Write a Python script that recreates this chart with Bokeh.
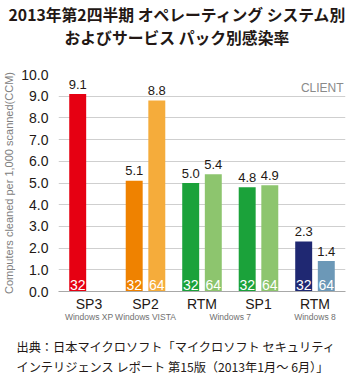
from bokeh.plotting import figure
from bokeh.models import (ColumnDataSource, FixedTicker, LinearAxis, Label, Title,
                          NumeralTickFormatter, Range1d)
from bokeh.core.properties import value
from bokeh.embed import file_html
from bokeh.resources import INLINE

# ---------------- data ----------------
sp_labels = ["SP3", "SP2", "RTM", "SP1", "RTM"]
os_labels = ["Windows XP", "Windows VISTA", "Windows 7", "Windows 8"]
os_positions = [0, 1, 2.5, 4]
ccm_32 = [9.1, 5.1, 5.0, 4.8, 2.3]
ccm_64 = [None, 8.8, 5.4, 4.9, 1.4]
colors_32 = ["#E60012", "#EF8200", "#1BA23A", "#1BA23A", "#1F2872"]
colors_64 = [None, "#F5AC3B", "#8DC56E", "#8DC56E", "#6C98B7"]
y_ticks = [0, 1, 2, 3, 4, 5, 6, 7, 8, 9, 10]
title_lines = ["2013年第2四半期 オペレーティング システム別",
               "およびサービス パック別感染率"]
source_lines = ["出典：日本マイクロソフト「マイクロソフト セキュリティ",
                "インテリジェンス レポート 第15版（2013年1月～ 6月）」"]
y_axis_title = "Computers cleaned per 1,000 scanned(CCM)"
corner_tag = "CLIENT"

# ---------------- layout constants ----------------
W, H = 350, 377
F_LEFT, F_RIGHT, F_TOP, F_BOTTOM = 50, 345, 74, 291
X0, X1 = -0.54, 4.54
Y0, Y1 = 0, 10
OFF, BW = 0.2, 0.3

def px_x(px):
    return X0 + (px - F_LEFT) * (X1 - X0) / (F_RIGHT - F_LEFT)

def px_y(py):
    return Y0 + (F_BOTTOM - py) * (Y1 - Y0) / (F_BOTTOM - F_TOP)

SANS = "Liberation Sans"
JP = "Noto Sans CJK JP"
INK = "#231815"

p = figure(width=W, height=H, output_backend="svg", toolbar_location=None,
           x_range=Range1d(X0, X1), y_range=Range1d(Y0, Y1),
           min_border_left=F_LEFT, min_border_right=W - F_RIGHT,
           min_border_top=F_TOP, min_border_bottom=H - F_BOTTOM)
p.outline_line_color = None
p.background_fill_color = "white"
p.border_fill_color = "white"

# bars
rows = {"x": [], "top": [], "color": [], "lbl": [], "bits": []}
for i in range(len(sp_labels)):
    for vals, cols, off, bits in ((ccm_32, colors_32, -OFF, "32"),
                                  (ccm_64, colors_64, OFF, "64")):
        v = vals[i]
        if v is None:
            continue
        rows["x"].append(i + off)
        rows["top"].append(v)
        rows["color"].append(cols[i])
        rows["lbl"].append(f"{v:.1f}")
        rows["bits"].append(bits)
src = ColumnDataSource(rows)

p.vbar(x="x", top="top", width=BW, bottom=0, fill_color="color",
       line_color=None, source=src)
p.text(x="x", y="top", text="lbl", source=src, text_align="center",
       text_baseline="alphabetic", y_offset=-10, text_color=INK,
       text_font=value(SANS), text_font_size="13px")
p.text(x="x", y=0, text="bits", source=src, text_align="center",
       text_baseline="alphabetic", y_offset=-7, text_color="white",
       text_font=value(SANS), text_font_size="14px")

# grid
p.xgrid.visible = False
p.ygrid.ticker = FixedTicker(ticks=y_ticks)
p.ygrid.grid_line_color = "#CFCFCF"
p.ygrid.grid_line_width = 1

# y axis
ya = p.yaxis[0]
ya.ticker = FixedTicker(ticks=y_ticks)
ya.formatter = NumeralTickFormatter(format="0.0")
ya.axis_line_color = None
ya.major_tick_line_color = None
ya.minor_tick_line_color = None
ya.major_label_standoff = 4
ya.major_label_text_font = SANS
ya.major_label_text_font_size = "14px"
ya.major_label_text_color = INK
ya.axis_label = y_axis_title
ya.axis_label_standoff = 3
ya.axis_label_text_font = SANS
ya.axis_label_text_font_style = "normal"
ya.axis_label_text_font_size = "11px"
ya.axis_label_text_color = "#808080"

# x axis (service pack)
xa = p.xaxis[0]
xa.ticker = FixedTicker(ticks=list(range(len(sp_labels))))
xa.major_label_overrides = {i: s for i, s in enumerate(sp_labels)}
xa.axis_line_color = "#A8A8A8"
xa.axis_line_width = 1.2
xa.major_tick_line_color = None
xa.minor_tick_line_color = None
xa.major_tick_out = 0
xa.major_tick_in = 0
xa.major_label_standoff = 4
xa.major_label_text_font = SANS
xa.major_label_text_font_size = "14px"
xa.major_label_text_color = INK

# x axis (OS)
xa2 = LinearAxis(ticker=FixedTicker(ticks=os_positions),
                 major_label_overrides={k: s for k, s in zip(os_positions, os_labels)})
xa2.axis_line_color = None
xa2.major_tick_line_color = None
xa2.minor_tick_line_color = None
xa2.major_tick_out = 0
xa2.major_tick_in = 0
xa2.major_label_standoff = -3
xa2.major_label_text_font = SANS
xa2.major_label_text_font_size = "8.5px"
xa2.major_label_text_color = "#707070"
p.add_layout(xa2, "below")

# spacer + source lines below
p.add_layout(Title(text=" ", standoff=0, text_font=SANS,
                   text_font_size="7.5px", text_color="white"), "below")
for t in source_lines:
    p.add_layout(Title(text=t, align="left", offset=-42, standoff=0,
                       text_font=JP, text_font_style="normal",
                       text_font_size="12.2px", text_color=INK), "below")

# spacer + title lines above (first added is nearest the frame)
p.add_layout(Title(text=" ", standoff=11, text_font=SANS,
                   text_font_size="10px", text_color="white"), "above")
p.add_layout(Title(text=title_lines[1], align="left", offset=6, standoff=0,
                   vertical_align="top", text_font=JP, text_font_style="bold",
                   text_font_size="15.8px", text_color=INK), "above")
p.add_layout(Title(text=title_lines[0], align="left", offset=-50, standoff=0,
                   vertical_align="bottom", text_font=JP, text_font_style="bold",
                   text_font_size="15.8px", text_color=INK), "above")

p.add_layout(Label(x=px_x(343), y=px_y(87), text=corner_tag, text_align="right",
                   text_baseline="alphabetic", text_font=SANS,
                   text_font_size="12px", text_color="#8A8A8A"))

open("out.html", "w").write(file_html(p, INLINE))
